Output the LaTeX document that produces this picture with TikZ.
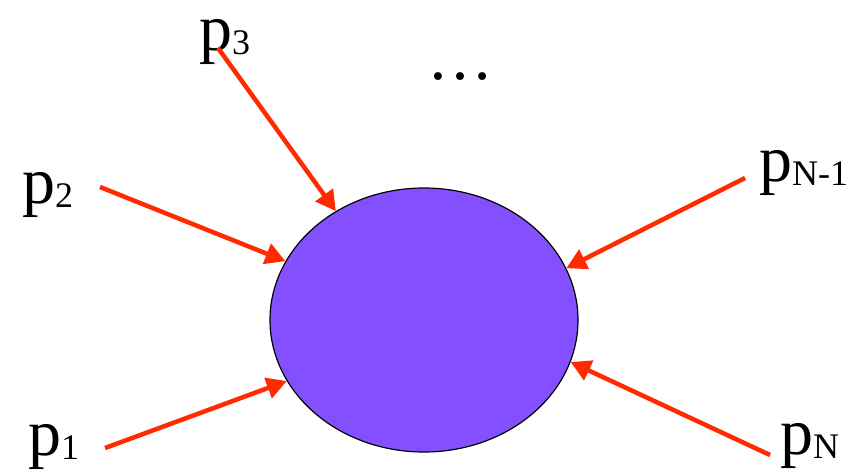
\documentclass[tikz,border=0pt]{standalone}
\usepackage{fontspec}
\setmainfont{Liberation Serif}
\usetikzlibrary{shapes.geometric,arrows.meta}
\definecolor{CBlob}{HTML}{8450FF}
\definecolor{CArrow}{HTML}{FF2A00}
\newcommand{\mom}[1]{p\raisebox{-4pt}{\fontsize{36}{36}\selectfont #1}}

\begin{document}
\begin{tikzpicture}[x=1pt, y=-1pt,
  every node/.style={font=\fontsize{66}{70}\selectfont, inner sep=0pt},
  lab/.style={anchor=base west},
  blob/.style={ellipse, draw=black, line width=1.2pt, fill=CBlob,
               minimum width=308pt, minimum height=264pt},
  arrow/.style={-{Triangle[length=20pt,width=21pt]}, draw=CArrow, line width=4.5pt}]
\useasboundingbox (0,0) rectangle (866,471);
\node[blob] (blob) at (424,320) {};
\node[lab] (lp1)  at (28,455)  {\mom{1}};
\node[lab] (lp2)  at (22,203)  {\mom{2}};
\node[lab] (lp3)  at (199,50)  {\mom{3}};
\node[lab] (lpN1) at (759,181) {\mom{N-1}};
\node[lab] (lpN)  at (780,454) {\mom{N}};
\node (dots) at (460,77) {\symbol{"2026}};
% free ends of the momentum arrows
\coordinate (s1)  at (105,448);
\coordinate (s2)  at (100,187);
\coordinate (s3)  at (218,48);
\coordinate (sN1) at (745,178);
\coordinate (sN)  at (770,455);
\foreach \s/\a in {s1/204,s2/157,s3/129,sN1/20,sN/-16} {\draw[arrow] (\s) -- (blob.\a);}
\end{tikzpicture}
\end{document}
